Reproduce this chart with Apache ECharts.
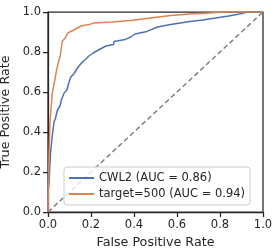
<!DOCTYPE html>
<html><head><meta charset="utf-8">
<script src="https://cdn.jsdelivr.net/npm/echarts@6/dist/echarts.min.js"></script>
<style>html,body{margin:0;padding:0;background:#fff}#c{width:277px;height:252px}</style>
</head><body><div id="c"></div>
<script>
const seriesNames = ['CWL2 (AUC = 0.86)', 'target=500 (AUC = 0.94)'];
const cwl2Fpr = [0, 0, 0.005, 0.008, 0.012, 0.018, 0.022, 0.028, 0.035, 0.044, 0.056, 0.062, 0.075, 0.088, 0.095, 0.106, 0.12, 0.14, 0.16, 0.176, 0.19, 0.21, 0.243, 0.27, 0.305, 0.307, 0.36, 0.385, 0.405, 0.46, 0.51, 0.57, 0.66, 0.72, 0.78, 0.84, 0.89, 0.93, 1.0];
const cwl2Tpr = [0, 0.10, 0.15, 0.22, 0.30, 0.36, 0.40, 0.45, 0.47, 0.51, 0.53, 0.56, 0.595, 0.61, 0.64, 0.675, 0.69, 0.725, 0.75, 0.765, 0.78, 0.795, 0.815, 0.83, 0.837, 0.853, 0.863, 0.875, 0.89, 0.903, 0.925, 0.937, 0.953, 0.96, 0.97, 0.98, 0.99, 1.0, 1.0];
const t500Fpr = [0, 0.002, 0.005, 0.008, 0.010, 0.015, 0.02, 0.03, 0.04, 0.044, 0.051, 0.057, 0.062, 0.067, 0.08, 0.092, 0.12, 0.153, 0.19, 0.215, 0.30, 0.383, 0.477, 0.57, 0.66, 0.75, 0.82, 1.0];
const t500Tpr = [0, 0.15, 0.30, 0.40, 0.46, 0.53, 0.595, 0.65, 0.71, 0.72, 0.76, 0.78, 0.82, 0.855, 0.87, 0.895, 0.91, 0.93, 0.937, 0.945, 0.95, 0.957, 0.97, 0.983, 0.99, 0.995, 1.0, 1.0];
const diagX = [0, 1];
const diagY = [0, 1];
const tickValues = [0, 0.2, 0.4, 0.6, 0.8, 1.0];

const zip = (a, b) => a.map((v, i) => [v, b[i]]);
const txt = '#262626';
const font = 'DejaVu Sans';
const axisCommon = {
  type: 'value', min: 0, max: 1, interval: 0.2,
  splitLine: {show: false},
  axisLine: {show: true, lineStyle: {color: txt, width: 1.25}},
  axisTick: {show: true, inside: false, length: 5, lineStyle: {color: txt, width: 1.25}},
  axisLabel: {color: txt, fontFamily: font, fontSize: 11.5, margin: 7, formatter: v => v.toFixed(1)},
  nameLocation: 'middle',
  nameTextStyle: {color: txt, fontFamily: font, fontSize: 12.7}
};
const chart = echarts.init(document.getElementById('c'), null, {renderer: 'canvas'});
chart.setOption({
  animation: false,
  grid: {left: 48, right: 14, top: 12, bottom: 40, show: true, borderColor: txt, borderWidth: 1.25, containLabel: false, outerBoundsMode: 'none'},
  xAxis: Object.assign({}, axisCommon, {name: 'False Positive Rate', nameGap: 24}),
  yAxis: Object.assign({}, axisCommon, {name: 'True Positive Rate', nameGap: 34}),
  legend: {
    orient: 'vertical', left: 64, top: 167,
    data: seriesNames,
    icon: 'rect', itemWidth: 25, itemHeight: 2, itemGap: 2, itemTextGap: 8,
    padding: [4, 5, 4, 5],
    backgroundColor: 'rgba(255,255,255,0.8)',
    borderColor: '#cccccc', borderWidth: 1, borderRadius: 3,
    textStyle: {color: txt, fontFamily: font, fontSize: 11.5, lineHeight: 14}
  },
  series: [
    {name: seriesNames[0], type: 'line', data: zip(cwl2Fpr, cwl2Tpr), symbol: 'none', color: '#4c72b0', lineStyle: {width: 1.5}, z: 3},
    {name: seriesNames[1], type: 'line', data: zip(t500Fpr, t500Tpr), symbol: 'none', color: '#dd8452', lineStyle: {width: 1.5}, z: 3},
    {name: 'diag', type: 'line', data: zip(diagX, diagY), symbol: 'none', color: '#808080', lineStyle: {width: 1.5, type: [5, 3]}, z: 2}
  ]
});
</script></body></html>
